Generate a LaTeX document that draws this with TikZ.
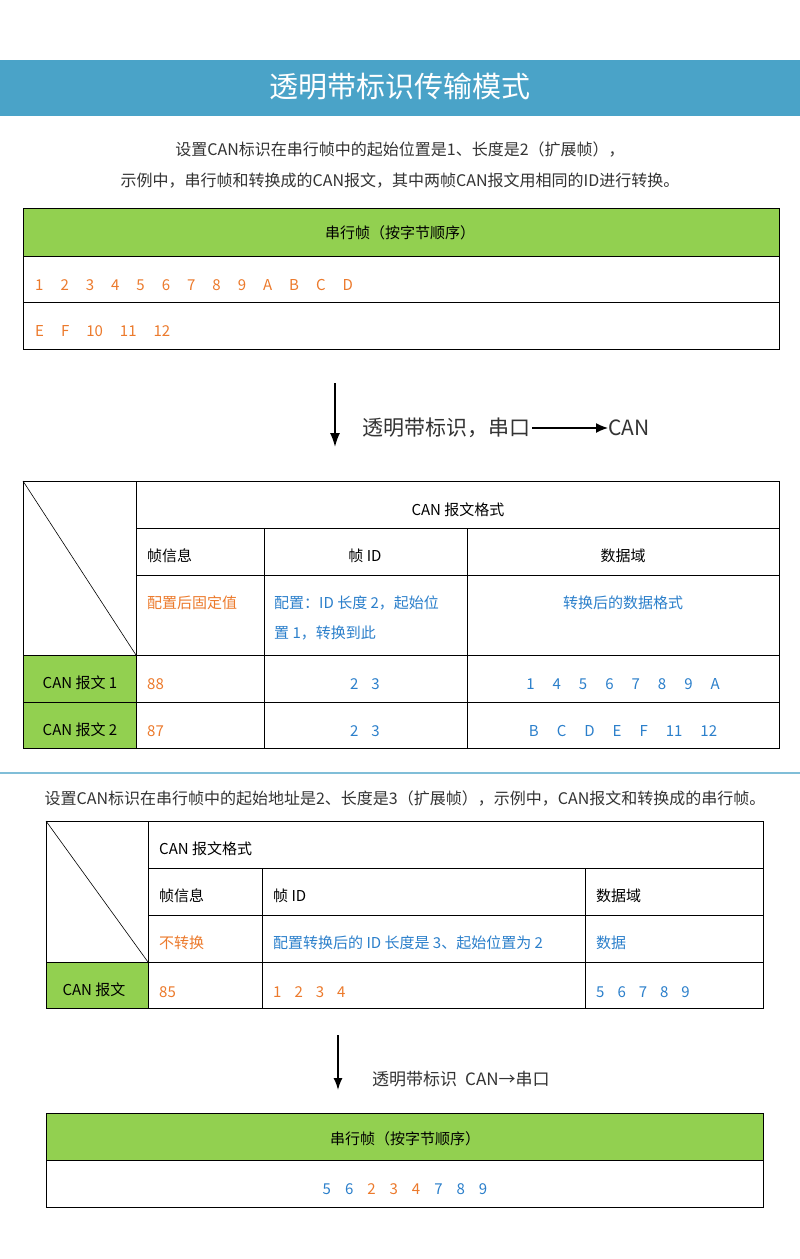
\documentclass[tikz,border=0pt]{standalone}
\usepackage{fontspec}
\setmainfont{Noto Sans CJK SC}
\usetikzlibrary{arrows.meta}
\begin{document}
\definecolor{banner}{HTML}{4AA3C8}
\definecolor{lgreen}{HTML}{92D050}
\definecolor{org}{HTML}{EC7A2C}
\definecolor{blu}{HTML}{2B7FCB}
\definecolor{txt}{HTML}{333333}
\tikzset{grid/.style={draw=black,line width=0.8pt},
 t/.style={font=\fontsize{15}{18}\selectfont,text=txt,inner sep=0},
 tw/.style={t,text=black},
 o/.style={t,text=org},
 b/.style={t,text=blu}}
\begin{tikzpicture}[x=1pt,y=-1pt]
\useasboundingbox (0,0) rectangle (800,1259);
\fill[white] (0,0) rectangle (800,1259);
% banner
\fill[banner] (0,60) rectangle (800,116);
\node[font=\fontsize{29}{32}\selectfont,text=white] (title) at (400,87) {透明带标识传输模式};
\node[t,font=\fontsize{16}{19}\selectfont] (s1) at (400,150) {设置CAN标识在串行帧中的起始位置是1、长度是2（扩展帧），};
\node[t,font=\fontsize{16}{19}\selectfont] (s2) at (400,181) {示例中，串行帧和转换成的CAN报文，其中两帧CAN报文用相同的ID进行转换。};
% table 1
\fill[lgreen] (23,208) rectangle (779,256);
\draw[grid] (23,208) rectangle (779,349);
\draw[grid] (23,256) -- (779,256) (23,302) -- (779,302);
\node[tw] (h1) at (400,233) {串行帧（按字节顺序）};
\node[o,anchor=west] (r1) at (35,285) {1\hspace{17pt}2\hspace{17pt}3\hspace{17pt}4\hspace{17pt}5\hspace{17pt}6\hspace{17pt}7\hspace{17pt}8\hspace{17pt}9\hspace{17pt}A\hspace{17pt}B\hspace{17pt}C\hspace{17pt}D};
\node[o,anchor=west] (r2) at (35,331) {E\hspace{17pt}F\hspace{17pt}10\hspace{17pt}11\hspace{17pt}12};
% arrow 1
\coordinate (a1s) at (335,383); \coordinate (a1e) at (335,447);
\draw[line width=1.6pt,-{Latex[length=14pt,width=10pt]}] (a1s) -- (a1e);
\node[t,font=\fontsize{21}{24}\selectfont,anchor=west] (lab1) at (362,428) {透明带标识，串口};
\node[t,font=\fontsize{21}{24}\selectfont,anchor=west] (lab1c) at (608,428) {CAN};
\draw[line width=1.4pt,-{Latex[length=12pt,width=10pt]}] ([xshift=2pt]lab1.east) -- (lab1c.west);
% table 2
\fill[lgreen] (23,655) rectangle (136,748);
\draw[grid] (23,481) rectangle (779,748);
\draw[grid] (136,481) -- (136,748);
\draw[grid] (136,528) -- (779,528) (136,575) -- (779,575) (23,655) -- (779,655) (23,702) -- (779,702);
\draw[grid] (264,528) -- (264,748) (467,528) -- (467,748);
\draw[line width=0.6pt] (23,481) -- (136,655);
\node[tw] (c0) at (458,510) {CAN 报文格式};
\node[tw,anchor=west] (c1) at (147,556) {帧信息};
\node[tw] (c2) at (365,556) {帧 ID};
\node[tw] (c3) at (623,556) {数据域};
\node[o,anchor=west] (c4) at (147,603) {配置后固定值};
\node[b,anchor=west] (c5) at (274,603) {配置：ID 长度 2，起始位};
\node[b,anchor=west] (c5b) at (274,633) {置 1，转换到此};
\node[b] (c6) at (623,603) {转换后的数据格式};
\node[tw] (m1) at (80,683) {CAN 报文 1};
\node[tw] (m2) at (80,730) {CAN 报文 2};
\node[o,anchor=west] (v1) at (147,684) {88};
\node[o,anchor=west] (v2) at (147,731) {87};
\node[b] (v3) at (365,684) {2\hspace{13pt}3};
\node[b] (v4) at (365,731) {2\hspace{13pt}3};
\node[b] (v5) at (623,684) {1\hspace{18pt}4\hspace{18pt}5\hspace{18pt}6\hspace{18pt}7\hspace{18pt}8\hspace{18pt}9\hspace{18pt}A};
\node[b] (v6) at (623,731) {B\hspace{18pt}C\hspace{18pt}D\hspace{18pt}E\hspace{18pt}F\hspace{18pt}11\hspace{18pt}12};
% separator
\draw[banner!70,line width=1.5pt] (0,773) -- (800,773);
\node[t,font=\fontsize{16}{19}\selectfont] (s3) at (405,798) {设置CAN标识在串行帧中的起始地址是2、长度是3（扩展帧），示例中，CAN报文和转换成的串行帧。};
% table 3
\fill[lgreen] (46,962) rectangle (148,1008);
\draw[grid] (46,821) rectangle (763,1008);
\draw[grid] (148,821) -- (148,1008);
\draw[grid] (148,868) -- (763,868) (148,915) -- (763,915) (46,962) -- (763,962);
\draw[grid] (262,868) -- (262,1008) (585,868) -- (585,1008);
\draw[line width=0.6pt] (46,821) -- (148,962);
\node[tw,anchor=west] (d0) at (159,849) {CAN 报文格式};
\node[tw,anchor=west] (d1) at (159,896) {帧信息};
\node[tw,anchor=west] (d2) at (273,896) {帧 ID};
\node[tw,anchor=west] (d3) at (596,896) {数据域};
\node[o,anchor=west] (d4) at (159,943) {不转换};
\node[b,anchor=west] (d5) at (273,943) {配置转换后的 ID 长度是 3、起始位置为 2};
\node[b,anchor=west] (d6) at (596,943) {数据};
\node[tw] (d7) at (94,990) {CAN 报文};
\node[o,anchor=west] (d8) at (159,992) {85};
\node[o,anchor=west] (d9) at (273,992) {1\hspace{13pt}2\hspace{13pt}3\hspace{13pt}4};
\node[b,anchor=west] (d10) at (596,992) {5\hspace{13pt}6\hspace{13pt}7\hspace{13pt}8\hspace{13pt}9};
% arrow 2
\coordinate (a2s) at (338,1035); \coordinate (a2e) at (338,1090);
\draw[line width=1.5pt,-{Latex[length=12pt,width=9pt]}] (a2s) -- (a2e);
\node[t,font=\fontsize{17}{20}\selectfont,anchor=west] (lab2) at (372,1079) {透明带标识\hspace{8pt}CAN→串口};
% table 4
\fill[lgreen] (46,1113) rectangle (763,1160);
\draw[grid] (46,1113) rectangle (763,1207);
\draw[grid] (46,1160) -- (763,1160);
\node[tw] (e0) at (405,1139) {串行帧（按字节顺序）};
\node[t] (e1) at (405,1189) {\color{blu}5\hspace{14pt}6\hspace{14pt}\color{org}2\hspace{14pt}3\hspace{14pt}4\hspace{14pt}\color{blu}7\hspace{14pt}8\hspace{14pt}9};
\end{tikzpicture}
\end{document}
